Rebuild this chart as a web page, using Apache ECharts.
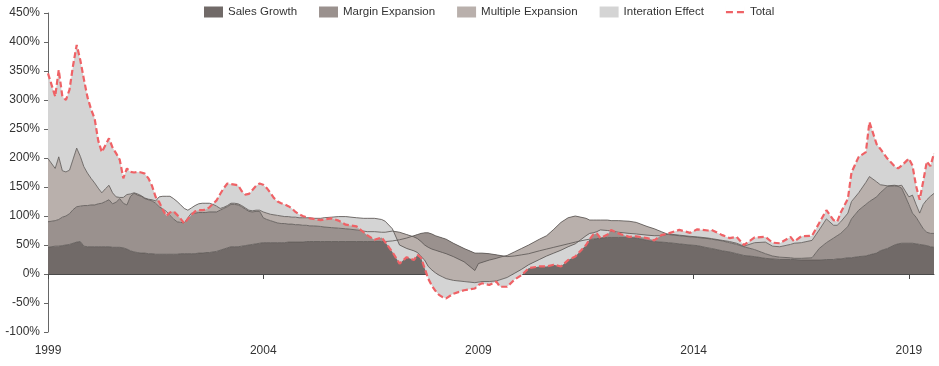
<!DOCTYPE html>
<html><head><meta charset="utf-8">
<script src="https://cdn.jsdelivr.net/npm/echarts@6/dist/echarts.min.js"></script>
<style>html,body{margin:0;padding:0;background:#fff}#c{width:939px;height:366px}</style>
</head><body><div id="c"></div>
<script>
const months = ['1999-01','1999-03','1999-04','1999-05','1999-06','1999-07','1999-08','1999-09','1999-10','1999-11','1999-12',
'2000-01','2000-02','2000-03','2000-04','2000-05','2000-06','2000-07','2000-08','2000-09','2000-10','2000-11','2000-12',
'2001-01','2001-02','2001-03','2001-04','2001-05','2001-06','2001-07','2001-08','2001-09','2001-10','2001-11','2001-12',
'2002-01','2002-02','2002-03','2002-04','2002-05','2002-06','2002-07','2002-08','2002-09','2002-10','2002-11','2002-12',
'2003-01','2003-02','2003-03','2003-04','2003-05','2003-06','2003-07','2003-08','2003-09','2003-10','2003-11','2003-12',
'2004-01','2004-02','2004-03','2004-04','2004-05','2004-06','2004-07','2004-08','2004-09','2004-10','2004-11','2004-12',
'2005-01','2005-02','2005-03','2005-05','2005-06','2005-08','2005-10','2005-12',
'2006-03','2006-05','2006-06','2006-08','2006-10','2006-11',
'2007-01','2007-03','2007-05','2007-07','2007-08','2007-09','2007-10','2007-11','2007-12',
'2008-01','2008-02','2008-03','2008-04','2008-06','2008-09','2008-12',
'2009-01','2009-02','2009-04','2009-06','2009-07','2009-09','2009-11',
'2010-01','2010-03','2010-06','2010-08','2010-10','2010-12',
'2011-02','2011-04','2011-07','2011-08','2011-09','2011-10','2011-11',
'2012-01','2012-02','2012-04','2012-07','2012-09','2012-12',
'2013-02','2013-04','2013-06','2013-09','2013-12',
'2014-02','2014-05','2014-06','2014-09','2014-11',
'2015-01','2015-03','2015-06','2015-09','2015-11',
'2016-01','2016-04','2016-05','2016-07','2016-10','2016-12',
'2017-02','2017-04','2017-05','2017-06','2017-08','2017-09','2017-11',
'2018-01','2018-02','2018-04','2018-05','2018-07','2018-09','2018-10','2018-11',
'2019-01','2019-02','2019-03','2019-04','2019-05','2019-06','2019-07','2019-08'];

const salesGrowth = [46,48,48,49,50,51,53,55,56,48,47,
47,47,47,47,47,47,46,46,46,45,43,40,
38,37,36,36,35,35,34,34,34,34,34,34,
34,35,35,35,35,35,36,36,37,37,38,39,
41,43,45,47,47,47,48,49,50,51,52,53,
54,54,54,54,54,54,54,55,55,55,55,55,
56,56,56,56,56,56,56,56,
56,56,56,56,56,56,
57,59,62,66,68,70,71,71,69,
66,64,62,60,53,44,36,
36,36,35,33,32,30,31,
33,35,40,43,46,49,
52,55,59,60,60,61,62,
63,63,63,63,62,58,
56,55,54,52,50,
49,45,44,40,38,
35,32,30,27,26,
25,25,25,24,24,24,
25,25,26,26,28,28,30,
31,33,36,40,44,50,52,53,
53,53,52,51,50,49,47,46];

const marginExpansion = [44,44,46,49,50,53,58,61,61,70,71,
72,72,74,75,78,81,75,78,84,77,76,94,
101,99,98,94,93,91,88,82,78,74,67,61,
56,54,53,62,70,70,70,70,69,70,69,68,
69,70,71,73,73,72,68,63,58,56,56,55,
43,40,38,36,34,33,33,31,31,30,30,29,
28,27,27,26,25,24,23,22,
20,18,17,17,16,16,
17,13,6,-2,-7,-14,-21,-25,-26,
-25,-25,-25,-25,-23,-23,-30,
-18,-16,-11,-6,-3,2,7,
11,15,20,23,31,40,
45,45,37,33,33,32,31,
30,29,29,28,27,24,
22,18,14,14,14,
14,16,16,17,16,
16,15,12,8,5,
4,3,2,3,4,20,
29,37,40,44,54,67,80,
89,92,97,100,107,102,99,95,
67,52,46,37,28,23,23,24];

const multipleExpansion = [109,90,108,80,76,75,87,101,86,67,56,
46,38,27,18,22,25,19,9,2,10,18,4,
1,2,1,1,1,2,4,17,22,26,33,35,
35,30,25,13,9,13,15,16,16,15,13,10,
3,2,2,2,2,2,2,2,2,2,2,2,
10,11,11,12,13,13,12,13,12,13,12,13,
13,14,13,14,16,18,20,21,
21,22,23,23,22,19,
4,-22,-24,-24,-24,-26,-26,-33,-36,
-39,-41,-42,-43,-41,-34,-21,
-32,-33,-37,-39,-39,-38,-37,
-36,-34,-35,-35,-41,-48,
-50,-48,-30,-23,-22,-20,-17,
-18,-18,-20,-21,-20,-15,
-12,-7,1,1,1,
1,1,1,1,2,
2,1,12,20,17,
18,23,26,27,30,32,
41,22,18,20,23,30,30,
38,43,26,14,1,1,1,5,
13,31,22,17,42,56,64,69];

const interactionEffect = [147,124,150,128,124,139,162,178,166,151,131,
119,111,82,70,75,81,78,75,65,33,45,38,
35,38,40,42,36,24,7,-9,-23,-34,-28,-22,
-23,-24,-26,-15,-12,-10,-11,-12,-11,-7,1,10,
25,33,38,33,32,32,25,23,28,36,42,46,
47,43,37,29,24,22,21,18,15,9,6,3,
1,-1,-1,-3,-3,-2,-7,-14,
-15,-24,-29,-37,-31,-36,
-40,-32,-15,-16,-4,-2,-14,-21,-27,
-31,-34,-35,-34,-23,-15,-10,
-5,-3,-6,-1,-12,-16,-11,
-10,-6,-12,-18,-20,-28,
-23,-22,-16,-10,-3,-3,-14,
-7,2,-2,-6,-4,-5,
-8,1,1,9,6,
13,13,15,9,6,
11,2,9,9,6,
6,13,3,11,8,12,
15,9,6,16,25,50,62,
52,94,65,62,47,33,30,34,
66,51,32,23,40,66,52,69];

const total = [346,306,352,306,300,318,360,395,369,336,305,
284,268,230,210,222,234,218,208,197,165,182,176,
175,176,175,173,165,152,133,124,111,100,106,108,
102,95,87,95,102,108,110,110,111,115,121,127,
138,148,156,155,154,153,143,137,138,145,152,156,
154,148,140,131,125,122,120,117,113,107,103,100,
98,96,95,93,94,96,92,85,
82,72,67,59,63,55,
38,18,29,24,33,28,10,-8,-20,
-29,-36,-40,-42,-34,-28,-25,
-19,-16,-19,-13,-22,-22,-10,
-2,10,13,13,16,13,
24,30,50,60,68,70,62,
68,76,70,64,65,62,
58,67,70,76,71,
77,75,76,67,62,
64,50,63,64,54,
53,64,56,65,66,88,
110,93,90,106,130,175,202,
210,262,224,216,199,186,182,187,
199,187,152,128,160,194,186,208];

const yearTicks = ['1999', '2004', '2009', '2014', '2019'];
const seriesNames = ['Sales Growth', 'Margin Expansion', 'Multiple Expansion', 'Interation Effect', 'Total'];
const areaColors = ['#716a68', '#9a918e', '#b9b0ac', '#d4d4d4'];

// monthly category axis spanning the data range
const axisMonths = [];
(function () {
  const [y0, m0] = months[0].split('-').map(Number);
  const [y1, m1] = months[months.length - 1].split('-').map(Number);
  let y = y0, m = m0;
  while (y < y1 || (y === y1 && m <= m1)) {
    axisMonths.push(y + '-' + String(m).padStart(2, '0'));
    m++; if (m > 12) { m = 1; y++; }
  }
})();
const isYearTick = (v) => v.slice(5) === '01' && yearTicks.indexOf(v.slice(0, 4)) >= 0;
const pairs = arr => arr.map((v, i) => [months[i], v]);
const font = 'Liberation Sans, Arial, sans-serif';

const areaData = [salesGrowth, marginExpansion, multipleExpansion, interactionEffect];
const series = areaData.map((arr, k) => ({
  name: seriesNames[k], type: 'line', stack: 'decomp', stackStrategy: 'all',
  data: pairs(arr), showSymbol: false, symbol: 'none', smooth: false,
  color: areaColors[k],
  lineStyle: { width: k === 3 ? 0 : 1, color: '#5f5a58', opacity: 0.85 },
  areaStyle: { color: areaColors[k], opacity: 1 },
  emphasis: { disabled: true }, z: 2
}));
series.push({
  name: 'Total', type: 'line', data: pairs(total), showSymbol: false, symbol: 'none',
  color: '#ef6266',
  lineStyle: { width: 2.2, color: '#ef6266', type: [6, 3] },
  emphasis: { disabled: true }, z: 5
});

const chart = echarts.init(document.getElementById('c'), null, { renderer: 'canvas' });
chart.setOption({
  animation: false,
  backgroundColor: '#ffffff',
  textStyle: { fontFamily: font },
  grid: { left: 48, right: 5, top: 13, bottom: 34, containLabel: false },
  legend: {
    left: 204, top: 6, padding: 0, itemWidth: 19, itemHeight: 11, itemGap: 22,
    textStyle: { fontSize: 11.5, color: '#333', fontFamily: font },
    data: [
      { name: seriesNames[0], icon: 'rect' },
      { name: seriesNames[1], icon: 'rect' },
      { name: seriesNames[2], icon: 'rect' },
      { name: seriesNames[3], icon: 'rect' },
      { name: seriesNames[4], icon: 'path://M0,4.5h7v2.2h-7zM11,4.5h7v2.2h-7zM0,0h0.01v11h-0.01zM18.99,0h0.01v11h-0.01z' }
    ]
  },
  xAxis: [
    {
      type: 'category', data: axisMonths, boundaryGap: false,
      axisLine: { onZero: true, lineStyle: { color: '#4a4a4a', width: 1 } },
      axisTick: { show: true, interval: (i, v) => isYearTick(v), length: 5, lineStyle: { color: '#4a4a4a' } },
      axisLabel: { show: false },
      splitLine: { show: false }
    },
    {
      type: 'category', data: axisMonths, boundaryGap: false, position: 'bottom',
      axisLine: { show: false, onZero: false },
      axisTick: { show: false },
      axisLabel: { show: true, interval: (i, v) => isYearTick(v), formatter: v => v.slice(0, 4),
        color: '#333', fontSize: 12, margin: 13, fontFamily: font },
      splitLine: { show: false }
    }
  ],
  yAxis: {
    type: 'value', min: -100, max: 450, interval: 50,
    axisLine: { show: true, lineStyle: { color: '#666', width: 1 } },
    axisTick: { show: true, length: 4, lineStyle: { color: '#666' } },
    axisLabel: { formatter: '{value}%', color: '#333', fontSize: 12, margin: 8, fontFamily: font },
    splitLine: { show: false }
  },
  series: series
});
</script>
</body></html>
